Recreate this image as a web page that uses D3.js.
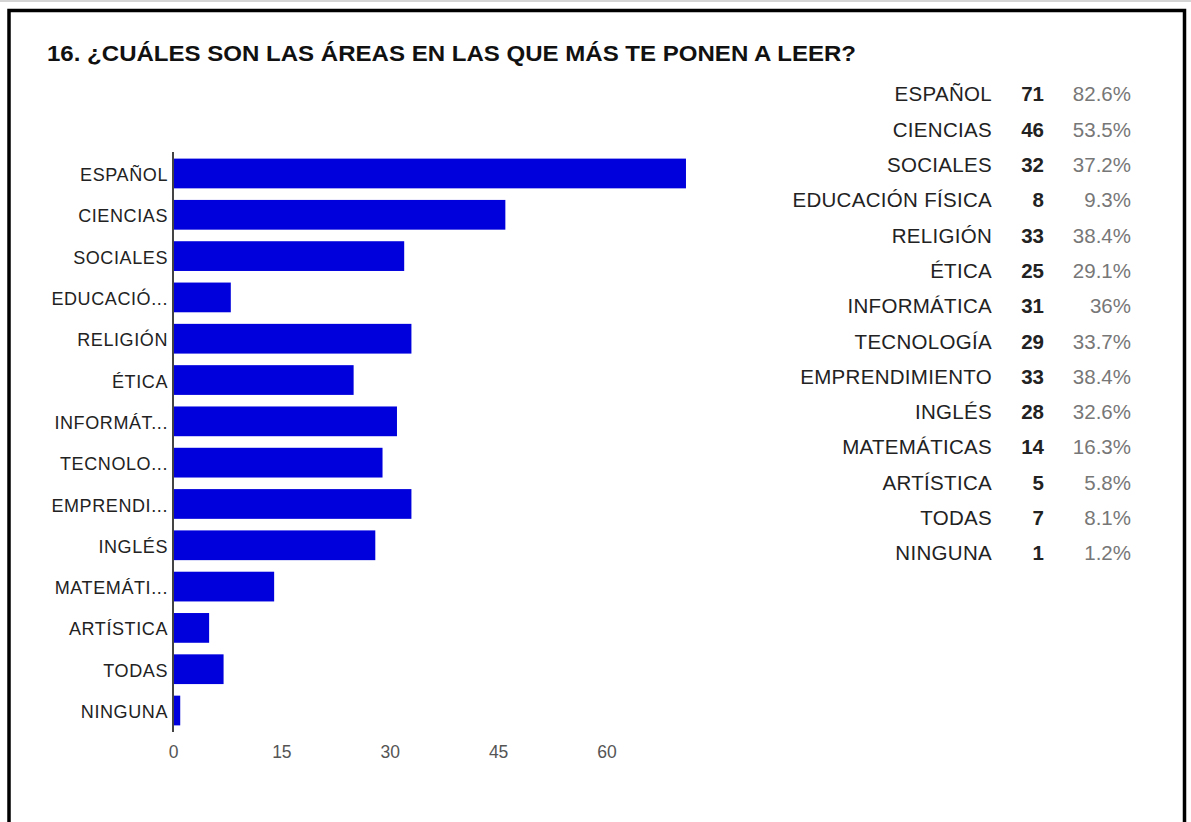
<!DOCTYPE html>
<html><head><meta charset="utf-8">
<script src="https://cdn.jsdelivr.net/npm/d3@7"></script>
<style>
html,body{margin:0;padding:0;background:#fff;}
svg{display:block;font-family:"Liberation Sans",Arial,sans-serif;}
</style></head>
<body>
<script>
const title = "16. ¿CUÁLES SON LAS ÁREAS EN LAS QUE MÁS TE PONEN A LEER?";
const categories = ["ESPAÑOL","CIENCIAS","SOCIALES","EDUCACIÓN FÍSICA","RELIGIÓN","ÉTICA","INFORMÁTICA","TECNOLOGÍA","EMPRENDIMIENTO","INGLÉS","MATEMÁTICAS","ARTÍSTICA","TODAS","NINGUNA"];
const axisLabels = ["ESPAÑOL","CIENCIAS","SOCIALES","EDUCACIÓ...","RELIGIÓN","ÉTICA","INFORMÁT...","TECNOLO...","EMPRENDI...","INGLÉS","MATEMÁTI...","ARTÍSTICA","TODAS","NINGUNA"];
const counts = [71,46,32,8,33,25,31,29,33,28,14,5,7,1];
const percents = ["82.6%","53.5%","37.2%","9.3%","38.4%","29.1%","36%","33.7%","38.4%","32.6%","16.3%","5.8%","8.1%","1.2%"];
const xTicks = [0,15,30,45,60];

const W = 1191, H = 822;
const svg = d3.select("body").append("svg").attr("width", W).attr("height", H);

// frame
svg.append("rect").attr("x",0).attr("y",0).attr("width",W).attr("height",2).attr("fill","#d4d4d4");
svg.append("path").attr("d",`M9,${H+5} V10.5 H1184.5 V${H+5}`).attr("fill","none").attr("stroke","#000").attr("stroke-width",3.5);

svg.append("text").attr("x",47).attr("y",61).attr("font-size",22.5).attr("font-weight","bold").attr("fill","#111")
  .attr("textLength",809).attr("lengthAdjust","spacingAndGlyphs").text(title);

const x = d3.scaleLinear().domain([0,60]).range([173,606.5]);
const y = d3.scaleBand().domain(categories).range([152,732]).paddingInner(0.28).paddingOuter(0.16);

svg.append("g").selectAll("rect").data(categories).join("rect")
  .attr("x", x(0)).attr("y", d => y(d))
  .attr("width", (d,i) => x(counts[i]) - x(0))
  .attr("height", y.bandwidth()).attr("fill","#0000dd");

const yAxis = svg.append("g").attr("transform",`translate(${x(0)},0)`)
  .call(d3.axisLeft(y).tickSize(0).tickPadding(5).tickFormat((d,i) => axisLabels[i]));
yAxis.select(".domain").attr("stroke","#444").attr("stroke-width",2).attr("d","M0,152V732");
yAxis.selectAll("text").attr("font-size",18).attr("letter-spacing",0.6).attr("dy","0.42em").attr("fill","#222").attr("font-family","Liberation Sans, Arial, sans-serif");

const xAxis = svg.append("g").attr("transform",`translate(0,732)`)
  .call(d3.axisBottom(x).tickValues(xTicks).tickSize(0).tickPadding(14));
xAxis.select(".domain").remove();
xAxis.selectAll("text").attr("font-size",17.5).attr("fill","#555").attr("font-family","Liberation Sans, Arial, sans-serif");

// table
const rowY = d3.scalePoint().domain(categories).range([94,553]);
const tbl = svg.append("g").attr("font-size",20.5);
tbl.selectAll("text.n").data(categories).join("text").attr("class","n")
  .attr("x",992).attr("y",d=>rowY(d)).attr("dy","0.36em").attr("text-anchor","end").attr("letter-spacing",0.3).attr("fill","#222").text(d=>d);
tbl.selectAll("text.c").data(categories).join("text").attr("class","c")
  .attr("x",1044).attr("y",d=>rowY(d)).attr("dy","0.36em").attr("text-anchor","end").attr("font-weight","bold").attr("fill","#222").text((d,i)=>counts[i]);
tbl.selectAll("text.p").data(categories).join("text").attr("class","p")
  .attr("x",1131).attr("y",d=>rowY(d)).attr("dy","0.36em").attr("text-anchor","end").attr("fill","#777").text((d,i)=>percents[i]);
</script>
</body></html>
